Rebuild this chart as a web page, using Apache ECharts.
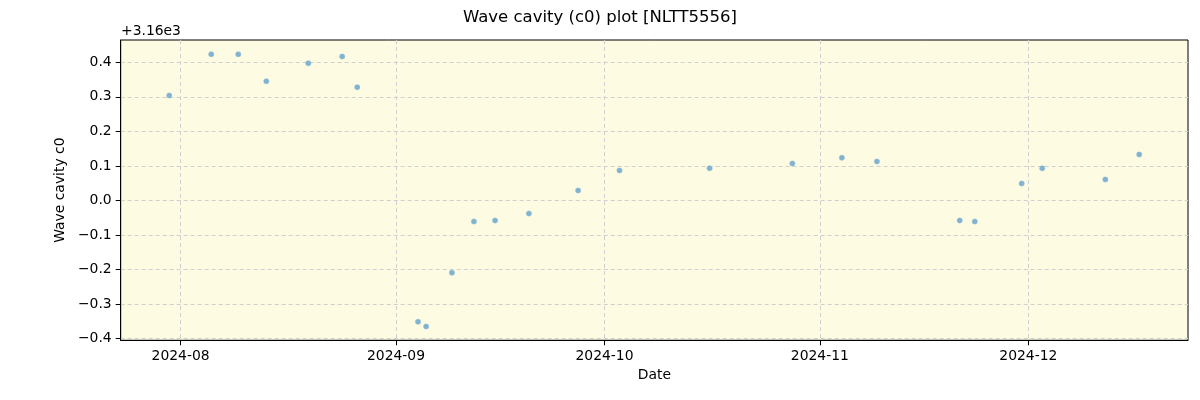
<!DOCTYPE html>
<html>
<head>
<meta charset="utf-8">
<script src="https://cdn.jsdelivr.net/npm/echarts@6/dist/echarts.min.js"></script>
<style>html,body{margin:0;padding:0;background:#fff}#c{width:1200px;height:400px}</style>
</head>
<body>
<div id="c"></div>
<script>
// ---- data ----
const OFFSET_LABEL = '+3.16e3';
const dates = [
  '2024-07-30T08:40Z','2024-08-05T09:40Z','2024-08-09T07:00Z','2024-08-13T08:00Z',
  '2024-08-19T09:00Z','2024-08-24T06:00Z','2024-08-26T10:00Z','2024-09-04T04:00Z',
  '2024-09-05T08:00Z','2024-09-09T01:00Z','2024-09-12T05:00Z','2024-09-15T06:00Z',
  '2024-09-20T03:00Z','2024-09-27T05:00Z','2024-10-03T04:00Z','2024-10-16T03:00Z',
  '2024-10-28T01:00Z','2024-11-04T04:00Z','2024-11-09T05:00Z','2024-11-21T03:00Z',
  '2024-11-23T07:00Z','2024-11-30T01:00Z','2024-12-03T00:00Z','2024-12-12T02:00Z',
  '2024-12-16T23:00Z'
];
// values relative to 3160 (offset shown as +3.16e3)
const values = [
  0.304, 0.423, 0.423, 0.345,
  0.397, 0.417, 0.328, -0.351,
  -0.365, -0.209, -0.061, -0.058,
  -0.038, 0.029, 0.087, 0.093,
  0.107, 0.124, 0.113, -0.058,
  -0.061, 0.049, 0.093, 0.061,
  0.133
];
const xTickLabels = ['2024-08','2024-09','2024-10','2024-11','2024-12'];
const yTicks = [-0.4,-0.3,-0.2,-0.1,0.0,0.1,0.2,0.3,0.4];
const xMin = '2024-07-23T09:00Z';
const xMax = '2024-12-23T23:30Z';
const yMin = -0.4047;
const yMax = 0.4646;

// ---- chart ----
const xTickVals = xTickLabels.map(s => Date.parse(s + '-01T00:00Z'));
const pts = dates.map((d, i) => [Date.parse(d), values[i]]);
const font = 'DejaVu Sans';
const chart = echarts.init(document.getElementById('c'), null, {renderer: 'canvas'});
chart.setOption({
  animation: false,
  backgroundColor: '#ffffff',
  textStyle: {fontFamily: font},
  title: {
    text: 'Wave cavity (c0) plot [NLTT5556]',
    left: 'center', top: 4,
    textStyle: {fontFamily: font, fontSize: 16.5, fontWeight: 'normal', color: '#000'}
  },
  graphic: [{
    type: 'text', left: 121, top: 24.5,
    style: {text: OFFSET_LABEL, font: '13.9px "DejaVu Sans"', fill: '#000'}
  }],
  grid: {
    left: 120.7, right: 12, top: 40, bottom: 59.7,
    show: true, backgroundColor: '#fdfbe1', borderColor: '#000', borderWidth: 1
  },
  xAxis: {
    type: 'value',
    min: Date.parse(xMin), max: Date.parse(xMax),
    name: 'Date', nameLocation: 'middle', nameGap: 28,
    nameTextStyle: {fontFamily: font, fontSize: 13.9, color: '#000'},
    axisLine: {show: true, onZero: false, lineStyle: {color: '#000', width: 1}},
    axisTick: {show: true, length: 5, customValues: xTickVals, lineStyle: {color: '#000'}},
    axisLabel: {
      customValues: xTickVals, margin: 9, color: '#000', fontFamily: font, fontSize: 13.9,
      formatter: function (v) {
        const i = xTickVals.indexOf(v);
        return i >= 0 ? xTickLabels[i] : '';
      }
    },
    splitLine: {show: true, lineStyle: {color: '#cfcfcf', type: [4, 3], width: 1}}
  },
  yAxis: {
    type: 'value',
    min: yMin, max: yMax,
    name: 'Wave cavity c0', nameLocation: 'middle', nameGap: 47,
    nameTextStyle: {fontFamily: font, fontSize: 13.9, color: '#000'},
    axisLine: {show: true, onZero: false, lineStyle: {color: '#000', width: 1}},
    axisTick: {show: true, length: 5, customValues: yTicks, lineStyle: {color: '#000'}},
    axisLabel: {
      customValues: yTicks, margin: 9, color: '#000', fontFamily: font, fontSize: 13.9,
      formatter: function (v) {
        let s = (Math.abs(v) < 1e-9 ? 0 : v).toFixed(1);
        return s.replace('-', '\u2212');
      }
    },
    splitLine: {show: true, lineStyle: {color: '#cfcfcf', type: [4, 3], width: 1}}
  },
  series: [{
    type: 'scatter',
    data: pts,
    symbol: 'circle',
    symbolSize: 5.5,
    itemStyle: {color: '#62a0ca', borderColor: 'rgba(180,210,230,0.8)', borderWidth: 0.5}
  }]
});
</script>
</body>
</html>
